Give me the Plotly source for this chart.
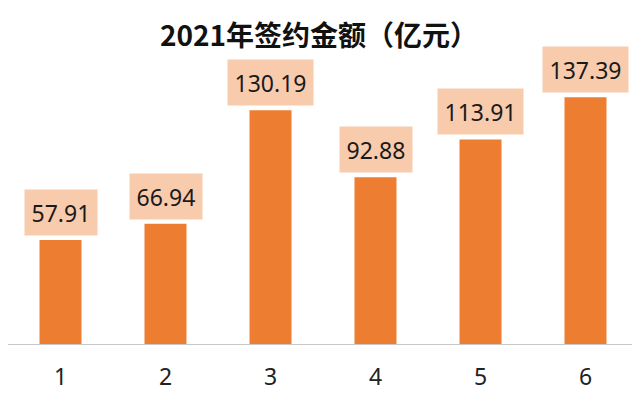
import plotly.graph_objects as go

categories = ["1", "2", "3", "4", "5", "6"]
amounts = [57.91, 66.94, 130.19, 92.88, 113.91, 137.39]
value_labels = ["57.91", "66.94", "130.19", "92.88", "113.91", "137.39"]

BAR = "#ED7D31"
BOX = "#F8CBAD"
FONT = "Noto Sans, Noto Sans CJK SC, sans-serif"

fig = go.Figure(go.Bar(
    x=categories,
    y=amounts,
    marker=dict(color=BAR, line=dict(width=0)),
    width=0.4,
    hoverinfo="skip",
))

# value labels in filled boxes above each bar
# (category position by index, since labels like "1" would be read as indices)
for i, (val, txt) in enumerate(zip(amounts, value_labels)):
    fig.add_annotation(
        x=i, y=val, text=txt,
        showarrow=False, yanchor="bottom", yshift=4,
        bgcolor=BOX, borderpad=6.5,
        font=dict(family=FONT, size=23, color="#1a1a1a"),
    )

# page body has an 8px margin, so the figure is a little smaller than the window
fig.update_layout(
    width=632,
    height=400,
    margin=dict(l=0, r=2, t=52, b=64),
    paper_bgcolor="white",
    plot_bgcolor="white",
    showlegend=False,
    title=dict(
        text="<b>2021年签约金额（亿元）</b>",
        x=0.492, xanchor="center", y=0.93, yanchor="middle",
        font=dict(family="Noto Sans CJK SC, sans-serif", size=28, color="#111111"),
    ),
    xaxis=dict(
        type="category", range=[-0.5, len(categories) - 0.5],
        showline=True, linecolor="#C8C8C8", linewidth=1.2,
        showgrid=False, zeroline=False,
        ticks="", ticklabelstandoff=12,
        tickfont=dict(family=FONT, size=23, color="#222222"),
    ),
    yaxis=dict(
        range=[0, 158.1], visible=False, showgrid=False, zeroline=False,
    ),
)

fig.write_html("out.html")
